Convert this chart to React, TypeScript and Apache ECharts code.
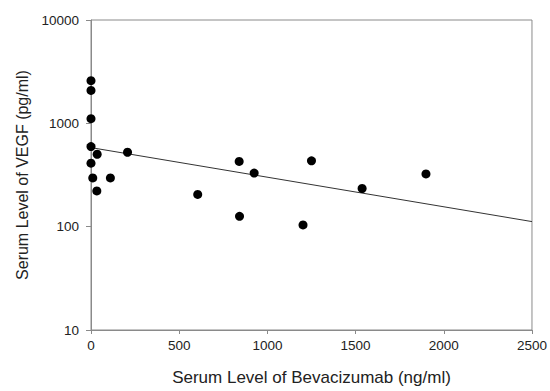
import React, { useEffect, useRef } from "react";
import * as echarts from "echarts";

const bevacizumab = [0, 0, 0, 0, 35, 0, 10, 110, 33, 207, 605, 840, 842, 925, 1250, 1202, 1537, 1899];
const vegf = [2590, 2080, 1110, 596, 502, 412, 296, 296, 222, 525, 205, 428, 126, 330, 434, 104, 234, 324];
const fitX = [0, 2500];
const fitY = [582, 112];
const xTicks = [0, 500, 1000, 1500, 2000, 2500];
const yTicks = [10, 100, 1000, 10000];

export default function App() {
  const ref = useRef<HTMLDivElement>(null);
  useEffect(() => {
    if (!ref.current) return;
    const chart = echarts.init(ref.current, undefined, { renderer: "svg" });
    const font = "Liberation Sans, Arial, sans-serif";
    const axisColor = "#8a8a8a";
    chart.setOption({
      animation: false,
      backgroundColor: "#ffffff",
      grid: {
        left: 91,
        top: 20,
        right: 18,
        bottom: 56,
        show: true,
        borderColor: axisColor,
        borderWidth: 1,
      },
      xAxis: {
        type: "value",
        min: xTicks[0],
        max: xTicks[xTicks.length - 1],
        interval: 500,
        name: "Serum Level of Bevacizumab (ng/ml)",
        nameLocation: "middle",
        nameGap: 39,
        nameTextStyle: { fontFamily: font, fontSize: 17, color: "#222" },
        axisLine: { show: true, lineStyle: { color: axisColor, width: 1 } },
        axisTick: { show: true, inside: false, length: 4, lineStyle: { color: axisColor } },
        axisLabel: { fontFamily: font, fontSize: 13.5, color: "#222", margin: 8, formatter: (v: number) => String(v) },
        splitLine: { show: false },
      },
      yAxis: {
        type: "log",
        logBase: 10,
        min: yTicks[0],
        max: yTicks[yTicks.length - 1],
        name: "Serum Level of VEGF (pg/ml)",
        nameLocation: "middle",
        nameGap: 61,
        nameTextStyle: { fontFamily: font, fontSize: 16, color: "#222" },
        axisLine: { show: true, lineStyle: { color: axisColor, width: 1 } },
        axisTick: { show: true, inside: false, length: 5, lineStyle: { color: axisColor } },
        axisLabel: { fontFamily: font, fontSize: 13.5, color: "#222", margin: 12, formatter: (v: number) => String(v) },
        splitLine: { show: false },
        minorTick: { show: false },
      },
      series: [
        {
          type: "line",
          data: fitX.map((x, i) => [x, fitY[i]]),
          symbol: "none",
          lineStyle: { color: "#333", width: 1 },
          z: 1,
        },
        {
          type: "scatter",
          data: bevacizumab.map((x, i) => [x, vegf[i]]),
          symbol: "circle",
          symbolSize: 9,
          itemStyle: { color: "#000", opacity: 1 },
          z: 2,
        },
      ],
    });
    return () => chart.dispose();
  }, []);
  return <div ref={ref} style={{ width: 550, height: 391, position: "absolute", left: 0, top: 0 }} />;
}
